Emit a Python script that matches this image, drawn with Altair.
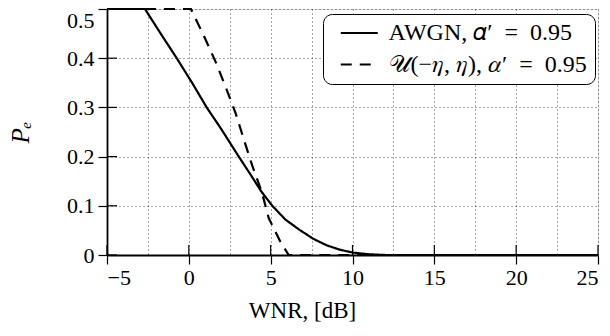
import altair as alt
import pandas as pd

# ---- data ----
awgn_x = [-5, -2.68, -1.7, -0.74, 0.2, 1.09, 2.0, 3.05, 3.8, 4.43, 5.1, 5.9, 6.77, 7.6, 8.4, 9.2, 10, 11, 12, 25]
awgn_y = [0.5, 0.5, 0.449, 0.4, 0.35, 0.3, 0.255, 0.2, 0.162, 0.129, 0.1, 0.072, 0.051, 0.033, 0.02, 0.011, 0.005, 0.0015, 0, 0]
unif_x = [-5, 0.13, 0.98, 1.67, 2.28, 2.85, 3.37, 3.87, 4.45, 4.88, 5.61, 6.1, 25]
unif_y = [0.5, 0.5, 0.441, 0.39, 0.339, 0.289, 0.234, 0.182, 0.129, 0.075, 0.026, 0, 0]
series_names = ["AWGN, 𝛼′\u2002=\u20020.95\u2009", "𝒰(−𝜂, 𝜂), 𝛼′\u2002=\u20020.95\u2009"]

x_grid = [-5, -2.5, 0, 2.5, 5, 7.5, 10, 12.5, 15, 17.5, 20, 22.5, 25]
x_ticks = [-5, 0, 5, 10, 15, 20, 25]
y_ticks = [0, 0.1, 0.2, 0.3, 0.4, 0.5]

rows = []
for i, (xv, yv) in enumerate(zip(awgn_x, awgn_y)):
    rows.append({"series": series_names[0], "x": xv, "y": yv, "idx": i})
for i, (xv, yv) in enumerate(zip(unif_x, unif_y)):
    rows.append({"series": series_names[1], "x": xv, "y": yv, "idx": i})
df = pd.DataFrame(rows)
xt_df = pd.DataFrame({"x": x_ticks})
yt_df = pd.DataFrame({"y": y_ticks})

W, H = 491, 246
FONT = "Liberation Serif"

x_scale = alt.Scale(domain=[-5, 25], nice=False, zero=False)
y_scale = alt.Scale(domain=[0, 0.5], nice=False)

x_axis = alt.Axis(
    values=x_grid,
    grid=True, gridDash=[1, 3], gridColor="black", gridWidth=1, gridOpacity=0.7,
    domainColor="black", domainWidth=1.8,
    tickColor={"condition": {"test": "datum.value % 5 != 0", "value": "transparent"}, "value": "black"},
    tickSize=9, tickWidth=1.2,
    labelExpr="datum.value % 5 == 0 ? format(datum.value, 'd') : ''",
    labelFont=FONT, labelFontSize=22, labelColor="black", labelPadding=3,
    title="WNR, [dB]", titleFont=FONT, titleFontSize=23, titleFontWeight="normal",
    titleColor="black", titleX=195, titleY=62, titleAlign="center", titleBaseline="alphabetic",
)
y_axis = alt.Axis(
    values=y_ticks,
    grid=True, gridDash=[1, 3], gridColor="black", gridWidth=1, gridOpacity=0.7,
    domainColor="black", domainWidth=1.8,
    tickColor="black", tickSize=9, tickWidth=1.2,
    labelExpr="datum.value == 0 ? '0' : format(datum.value, '.1f')",
    labelBaseline={"condition": {"test": "datum.value >= 0.5", "value": "top"}, "value": "middle"},
    labelOffset={"condition": {"test": "datum.value >= 0.5", "value": 1.5}, "value": 0},
    labelFont=FONT, labelFontSize=22, labelColor="black", labelPadding=4,
    title="Pₑ", titleFont=FONT, titleFontSize=25, titleFontWeight="normal",
    titleFontStyle="italic", titleColor="black", titleAngle=-90,
    titleX=-79, titleY=123, titleAlign="center", titleBaseline="alphabetic",
)

lines = alt.Chart(df).mark_line(color="black", strokeWidth=2.2, clip=False).encode(
    x=alt.X("x:Q", scale=x_scale, axis=x_axis),
    y=alt.Y("y:Q", scale=y_scale, axis=y_axis),
    strokeDash=alt.StrokeDash(
        "series:N",
        scale=alt.Scale(domain=series_names, range=[[1, 0], [11, 8]]),
        legend=alt.Legend(
            title=None, orient="none", legendX=216, legendY=5,
            symbolType="M-2,0H2", symbolSize=342, symbolStrokeWidth=2.2,
            symbolStrokeColor="black", symbolOffset=17.25,
            labelFont=FONT, labelFontSize=24, labelColor="black", labelLimit=400,
            labelOffset=17.25, rowPadding=7.5,
            strokeColor="black", fillColor="white", cornerRadius=9,
            padding=7,
        ),
    ),
    order="idx:Q",
)

xt_in = alt.Chart(xt_df).mark_rule(color="black", strokeWidth=1.2).encode(
    x=alt.X("x:Q", scale=x_scale), y=alt.value(H), y2=alt.value(H - 10)
)
yt_in = alt.Chart(yt_df).mark_rule(color="black", strokeWidth=1.2).encode(
    y=alt.Y("y:Q", scale=y_scale), x=alt.value(0), x2=alt.value(10)
)

chart = alt.layer(xt_in, yt_in, lines).properties(
    width=W, height=H,
    autosize=alt.AutoSizeParams(type="none"),
    padding={"left": 99, "top": 1, "right": 4, "bottom": 72},
).configure_view(stroke="black", strokeWidth=1.8).configure(background="white")

chart.save("out.html", embed_options={"renderer": "svg", "actions": False})
